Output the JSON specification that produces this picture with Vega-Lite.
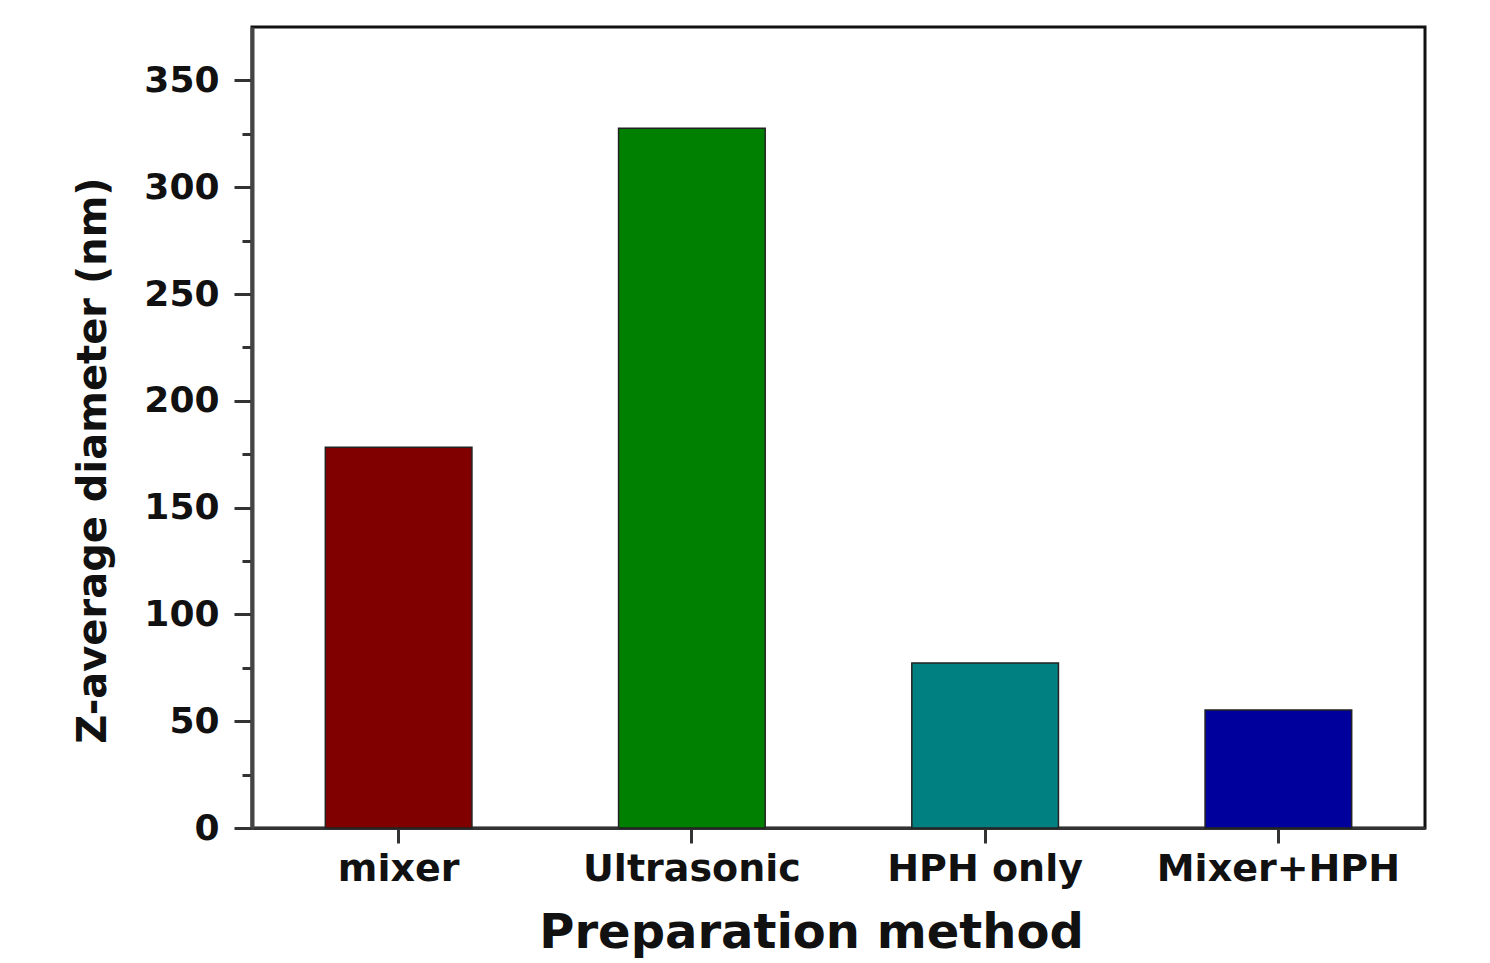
{
  "$schema": "https://vega.github.io/schema/vega-lite/v6.json",
  "width": 1173,
  "height": 801,
  "autosize": {"type": "none"},
  "padding": {"left": 252, "top": 27, "right": 65, "bottom": 135},
  "background": "white",
  "config": {
    "font": "DejaVu Sans",
    "view": {"stroke": "#111", "strokeWidth": 3}
  },
  "data": {
    "values": [
      {"method": "mixer", "diameter": 178.3, "color": "#800000"},
      {"method": "Ultrasonic", "diameter": 327.6, "color": "#008000"},
      {"method": "HPH only", "diameter": 77.2, "color": "#008080"},
      {"method": "Mixer+HPH", "diameter": 55.2, "color": "#00009C"}
    ]
  },
  "mark": {"type": "bar", "stroke": "#222", "strokeWidth": 1.5},
  "encoding": {
    "x": {
      "field": "method",
      "type": "nominal",
      "sort": null,
      "scale": {"paddingInner": 0.5, "paddingOuter": 0.25},
      "axis": {
        "title": "Preparation method",
        "titleFontSize": 48,
        "titleFontWeight": "bold",
        "titleColor": "#111",
        "titlePadding": 21,
        "titleX": 559,
        "labelAngle": 0,
        "labelFontSize": 38,
        "labelFontWeight": "bold",
        "labelColor": "#111",
        "labelPadding": 7,
        "labelLimit": 400,
        "tickSize": 15,
        "tickWidth": 3,
        "tickColor": "#333",
        "domainColor": "#333",
        "domainWidth": 3
      }
    },
    "y": {
      "field": "diameter",
      "type": "quantitative",
      "scale": {"domain": [0, 375], "nice": false},
      "axis": {
        "title": "Z-average diameter (nm)",
        "titleFontSize": 40,
        "titleFontWeight": "bold",
        "titleColor": "#111",
        "titlePadding": 30,
        "titleY": 433,
        "values": [0, 25, 50, 75, 100, 125, 150, 175, 200, 225, 250, 275, 300, 325, 350],
        "labelExpr": "datum.value % 50 === 0 ? datum.label : ''",
        "labelFontSize": 36,
        "labelFontWeight": "bold",
        "labelColor": "#111",
        "labelPadding": 15,
        "tickSize": {"condition": {"test": "datum.value % 50 === 0", "value": 18}, "value": 10},
        "tickWidth": 3,
        "tickColor": "#333",
        "domainColor": "#444",
        "domainWidth": 4,
        "grid": false
      }
    },
    "color": {"field": "color", "type": "nominal", "scale": null}
  }
}
